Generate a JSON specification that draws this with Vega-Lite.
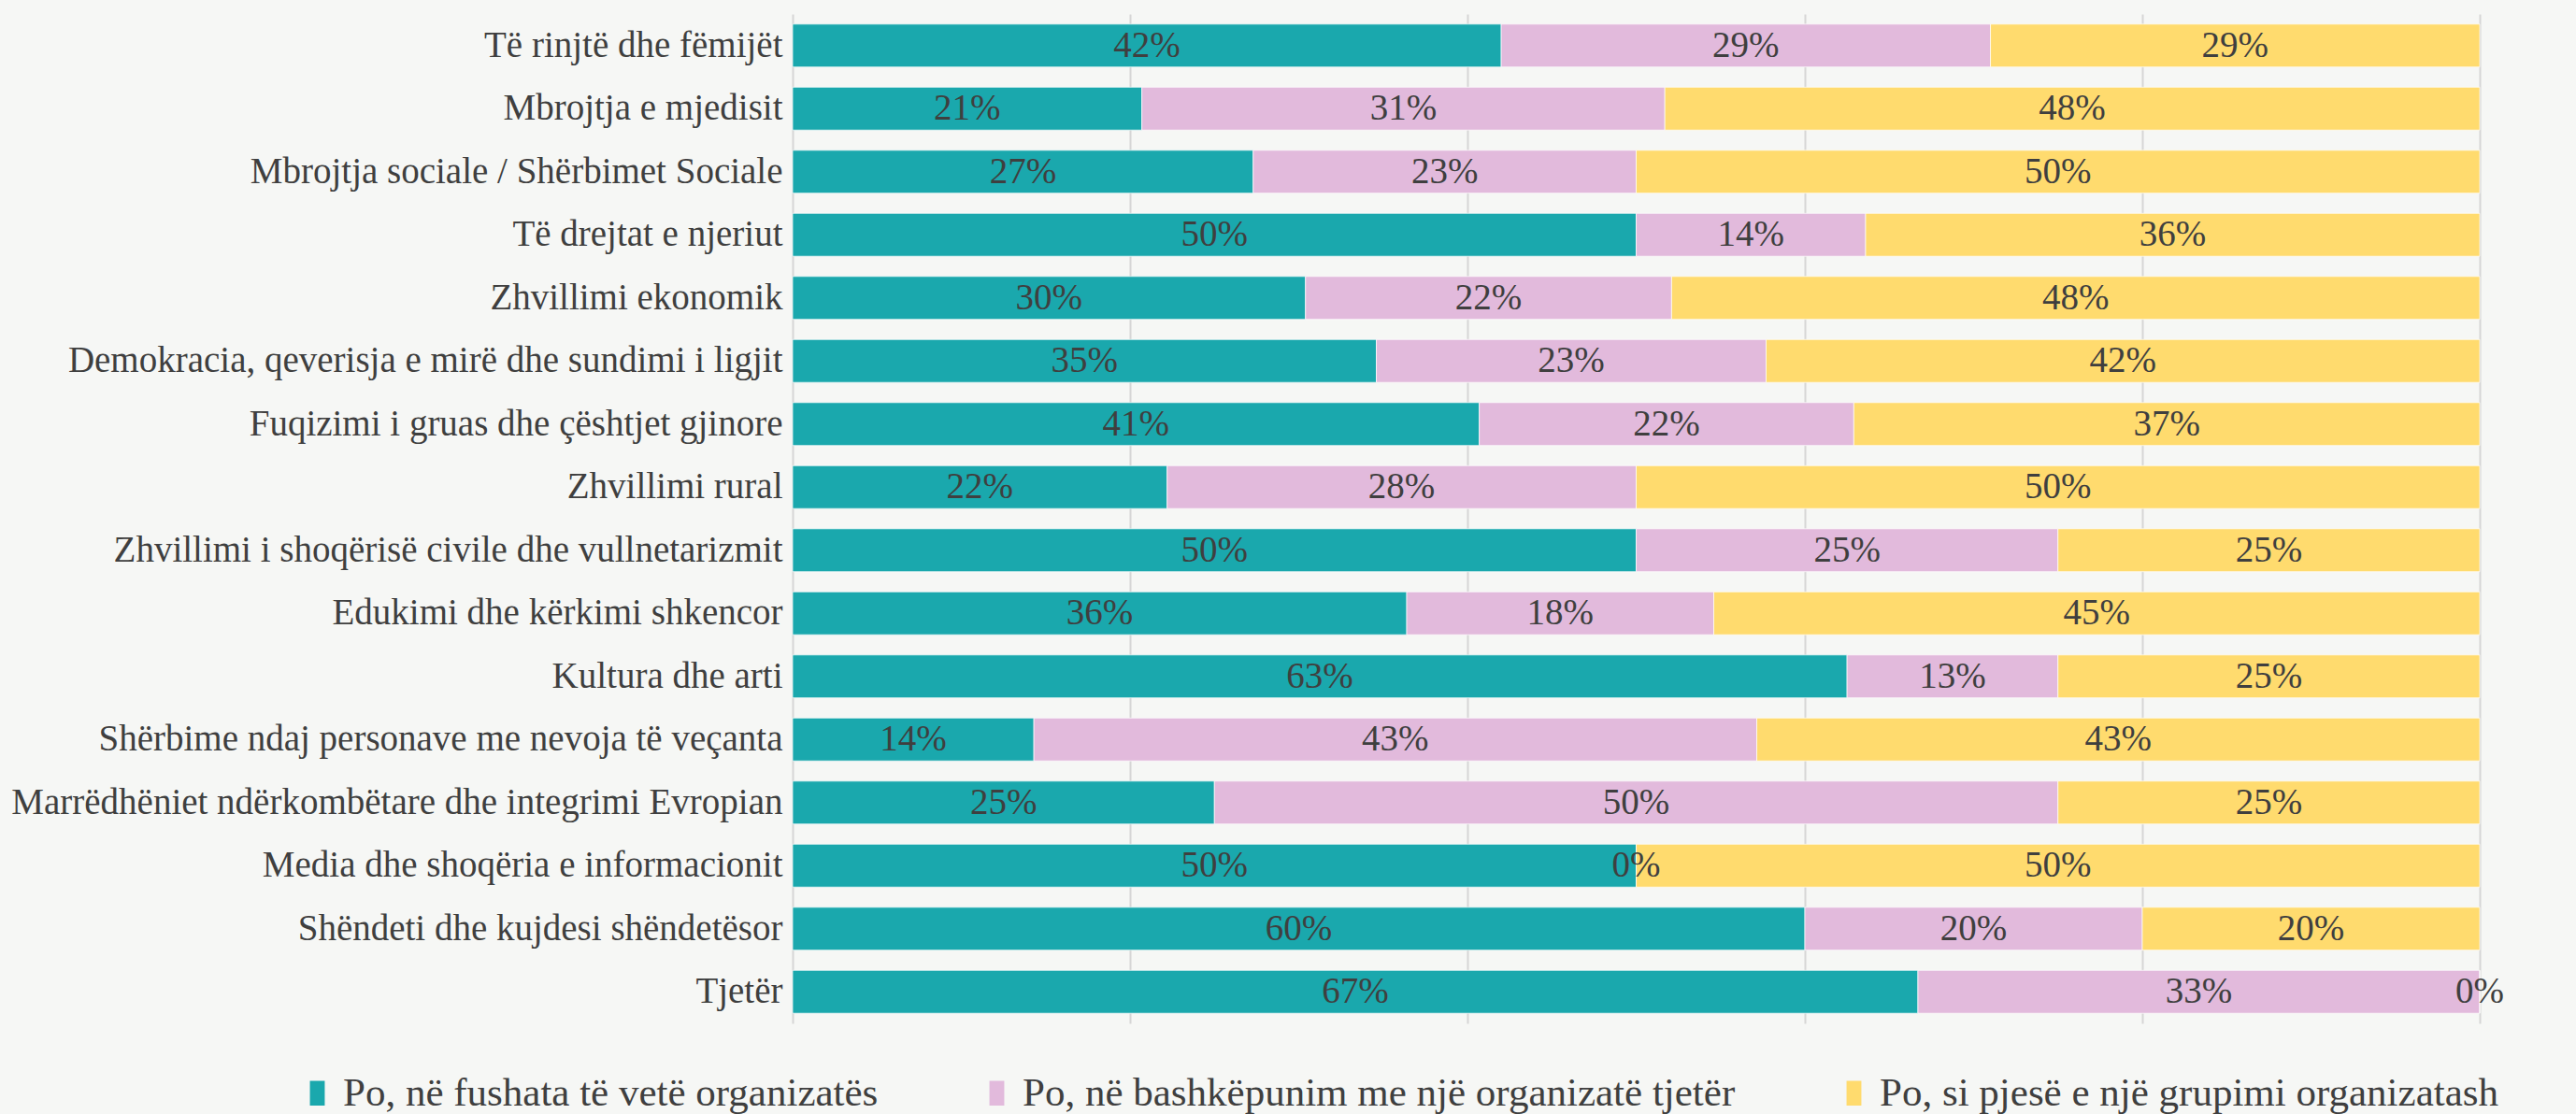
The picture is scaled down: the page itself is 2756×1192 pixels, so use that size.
{
  "$schema": "https://vega.github.io/schema/vega-lite/v6.json",
  "width": 1805,
  "height": 1080,
  "autosize": {"type": "none"},
  "padding": {"left": 848, "top": 15, "right": 103, "bottom": 97},
  "background": "#F6F7F5",
  "config": {
    "view": {"stroke": null},
    "font": "Liberation Serif"
  },
  "data": {
    "values": [
      {"cat": "Të rinjtë dhe fëmijët", "k": 1, "s": "Po, në fushata të vetë organizatës", "v": 0.42},
      {"cat": "Të rinjtë dhe fëmijët", "k": 2, "s": "Po, në bashkëpunim me një organizatë tjetër", "v": 0.29},
      {"cat": "Të rinjtë dhe fëmijët", "k": 3, "s": "Po, si pjesë e një grupimi organizatash", "v": 0.29},
      {"cat": "Mbrojtja e mjedisit", "k": 1, "s": "Po, në fushata të vetë organizatës", "v": 0.207},
      {"cat": "Mbrojtja e mjedisit", "k": 2, "s": "Po, në bashkëpunim me një organizatë tjetër", "v": 0.31},
      {"cat": "Mbrojtja e mjedisit", "k": 3, "s": "Po, si pjesë e një grupimi organizatash", "v": 0.483},
      {"cat": "Mbrojtja sociale / Shërbimet Sociale", "k": 1, "s": "Po, në fushata të vetë organizatës", "v": 0.273},
      {"cat": "Mbrojtja sociale / Shërbimet Sociale", "k": 2, "s": "Po, në bashkëpunim me një organizatë tjetër", "v": 0.227},
      {"cat": "Mbrojtja sociale / Shërbimet Sociale", "k": 3, "s": "Po, si pjesë e një grupimi organizatash", "v": 0.5},
      {"cat": "Të drejtat e njeriut", "k": 1, "s": "Po, në fushata të vetë organizatës", "v": 0.5},
      {"cat": "Të drejtat e njeriut", "k": 2, "s": "Po, në bashkëpunim me një organizatë tjetër", "v": 0.136},
      {"cat": "Të drejtat e njeriut", "k": 3, "s": "Po, si pjesë e një grupimi organizatash", "v": 0.364},
      {"cat": "Zhvillimi ekonomik", "k": 1, "s": "Po, në fushata të vetë organizatës", "v": 0.304},
      {"cat": "Zhvillimi ekonomik", "k": 2, "s": "Po, në bashkëpunim me një organizatë tjetër", "v": 0.217},
      {"cat": "Zhvillimi ekonomik", "k": 3, "s": "Po, si pjesë e një grupimi organizatash", "v": 0.479},
      {"cat": "Demokracia, qeverisja e mirë dhe sundimi i ligjit", "k": 1, "s": "Po, në fushata të vetë organizatës", "v": 0.346},
      {"cat": "Demokracia, qeverisja e mirë dhe sundimi i ligjit", "k": 2, "s": "Po, në bashkëpunim me një organizatë tjetër", "v": 0.231},
      {"cat": "Demokracia, qeverisja e mirë dhe sundimi i ligjit", "k": 3, "s": "Po, si pjesë e një grupimi organizatash", "v": 0.423},
      {"cat": "Fuqizimi i gruas dhe çështjet gjinore", "k": 1, "s": "Po, në fushata të vetë organizatës", "v": 0.407},
      {"cat": "Fuqizimi i gruas dhe çështjet gjinore", "k": 2, "s": "Po, në bashkëpunim me një organizatë tjetër", "v": 0.222},
      {"cat": "Fuqizimi i gruas dhe çështjet gjinore", "k": 3, "s": "Po, si pjesë e një grupimi organizatash", "v": 0.371},
      {"cat": "Zhvillimi rural", "k": 1, "s": "Po, në fushata të vetë organizatës", "v": 0.222},
      {"cat": "Zhvillimi rural", "k": 2, "s": "Po, në bashkëpunim me një organizatë tjetër", "v": 0.278},
      {"cat": "Zhvillimi rural", "k": 3, "s": "Po, si pjesë e një grupimi organizatash", "v": 0.5},
      {"cat": "Zhvillimi i shoqërisë civile dhe vullnetarizmit", "k": 1, "s": "Po, në fushata të vetë organizatës", "v": 0.5},
      {"cat": "Zhvillimi i shoqërisë civile dhe vullnetarizmit", "k": 2, "s": "Po, në bashkëpunim me një organizatë tjetër", "v": 0.25},
      {"cat": "Zhvillimi i shoqërisë civile dhe vullnetarizmit", "k": 3, "s": "Po, si pjesë e një grupimi organizatash", "v": 0.25},
      {"cat": "Edukimi dhe kërkimi shkencor", "k": 1, "s": "Po, në fushata të vetë organizatës", "v": 0.364},
      {"cat": "Edukimi dhe kërkimi shkencor", "k": 2, "s": "Po, në bashkëpunim me një organizatë tjetër", "v": 0.182},
      {"cat": "Edukimi dhe kërkimi shkencor", "k": 3, "s": "Po, si pjesë e një grupimi organizatash", "v": 0.454},
      {"cat": "Kultura dhe arti", "k": 1, "s": "Po, në fushata të vetë organizatës", "v": 0.625},
      {"cat": "Kultura dhe arti", "k": 2, "s": "Po, në bashkëpunim me një organizatë tjetër", "v": 0.125},
      {"cat": "Kultura dhe arti", "k": 3, "s": "Po, si pjesë e një grupimi organizatash", "v": 0.25},
      {"cat": "Shërbime ndaj personave me nevoja të veçanta", "k": 1, "s": "Po, në fushata të vetë organizatës", "v": 0.143},
      {"cat": "Shërbime ndaj personave me nevoja të veçanta", "k": 2, "s": "Po, në bashkëpunim me një organizatë tjetër", "v": 0.4285},
      {"cat": "Shërbime ndaj personave me nevoja të veçanta", "k": 3, "s": "Po, si pjesë e një grupimi organizatash", "v": 0.4285},
      {"cat": "Marrëdhëniet ndërkombëtare dhe integrimi Evropian", "k": 1, "s": "Po, në fushata të vetë organizatës", "v": 0.25},
      {"cat": "Marrëdhëniet ndërkombëtare dhe integrimi Evropian", "k": 2, "s": "Po, në bashkëpunim me një organizatë tjetër", "v": 0.5},
      {"cat": "Marrëdhëniet ndërkombëtare dhe integrimi Evropian", "k": 3, "s": "Po, si pjesë e një grupimi organizatash", "v": 0.25},
      {"cat": "Media dhe shoqëria e informacionit", "k": 1, "s": "Po, në fushata të vetë organizatës", "v": 0.5},
      {"cat": "Media dhe shoqëria e informacionit", "k": 2, "s": "Po, në bashkëpunim me një organizatë tjetër", "v": 0},
      {"cat": "Media dhe shoqëria e informacionit", "k": 3, "s": "Po, si pjesë e një grupimi organizatash", "v": 0.5},
      {"cat": "Shëndeti dhe kujdesi shëndetësor", "k": 1, "s": "Po, në fushata të vetë organizatës", "v": 0.6},
      {"cat": "Shëndeti dhe kujdesi shëndetësor", "k": 2, "s": "Po, në bashkëpunim me një organizatë tjetër", "v": 0.2},
      {"cat": "Shëndeti dhe kujdesi shëndetësor", "k": 3, "s": "Po, si pjesë e një grupimi organizatash", "v": 0.2},
      {"cat": "Tjetër", "k": 1, "s": "Po, në fushata të vetë organizatës", "v": 0.667},
      {"cat": "Tjetër", "k": 2, "s": "Po, në bashkëpunim me një organizatë tjetër", "v": 0.333},
      {"cat": "Tjetër", "k": 3, "s": "Po, si pjesë e një grupimi organizatash", "v": 0}
    ]
  },
  "encoding": {
    "y": {
      "field": "cat",
      "type": "nominal",
      "sort": null,
      "scale": {"paddingInner": 0.32, "paddingOuter": 0.16},
      "axis": {
        "title": null,
        "ticks": false,
        "domain": false,
        "labelFont": "Liberation Serif",
        "labelFontSize": 39,
        "labelColor": "#3F3F3F",
        "labelPadding": 11,
        "labelLimit": 1000
      }
    }
  },
  "layer": [
    {
      "mark": {"type": "bar", "stroke": "#FFFFFF", "strokeWidth": 1, "strokeOpacity": 0.7},
      "encoding": {
        "x": {
          "field": "v",
          "type": "quantitative",
          "stack": "zero",
          "scale": {"domain": [0, 1], "nice": false},
          "axis": {
            "title": null,
            "values": [0, 0.2, 0.4, 0.6, 0.8, 1],
            "grid": true,
            "gridColor": "#D6D6D6",
            "gridWidth": 2,
            "labels": false,
            "ticks": false,
            "domain": false
          }
        },
        "order": {"field": "k", "type": "quantitative"},
        "color": {
          "field": "s",
          "type": "nominal",
          "scale": {
            "domain": ["Po, në fushata të vetë organizatës", "Po, në bashkëpunim me një organizatë tjetër", "Po, si pjesë e një grupimi organizatash"],
            "range": ["#1AA8AD", "#E2BADC", "#FFDB6E"]
          },
          "legend": {
            "title": null,
            "orient": "none",
            "legendX": -530,
            "legendY": 1133,
            "direction": "horizontal",
            "padding": 0,
            "symbolType": "M-0.6,-1L0.6,-1L0.6,1L-0.6,1Z",
            "symbolSize": 700,
            "symbolStrokeWidth": 0,
            "symbolOpacity": 1,
            "labelFont": "Liberation Serif",
            "labelFontSize": 43,
            "labelColor": "#3F3F3F",
            "labelOffset": 6,
            "labelLimit": 1200,
            "columnPadding": 105
          }
        }
      }
    },
    {
      "mark": {"type": "text", "font": "Liberation Serif", "fontSize": 39, "color": "#3F3F3F", "baseline": "middle", "align": "center"},
      "encoding": {
        "x": {"field": "v", "type": "quantitative", "stack": "zero", "bandPosition": 0.5},
        "order": {"field": "k", "type": "quantitative"},
        "detail": {"field": "s"},
        "text": {"field": "v", "type": "quantitative", "format": ".0%"}
      }
    }
  ]
}
